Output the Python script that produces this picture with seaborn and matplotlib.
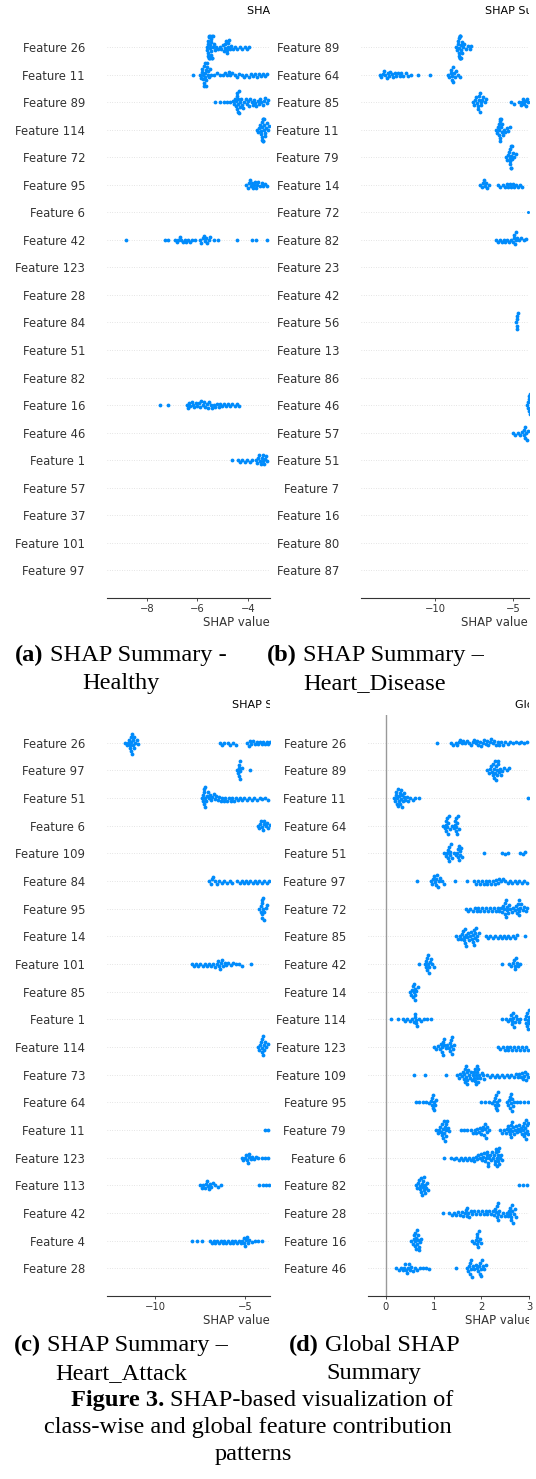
import matplotlib
matplotlib.use("Agg")
import matplotlib.pyplot as plt
import numpy as np
import pandas as pd
import seaborn as sns
from matplotlib.transforms import Bbox, TransformedBbox

# ---------------- data ----------------
a_features = ["Feature 26", "Feature 11", "Feature 89", "Feature 114", "Feature 72", "Feature 95",
              "Feature 6", "Feature 42", "Feature 123", "Feature 28", "Feature 84", "Feature 51",
              "Feature 82", "Feature 16", "Feature 46", "Feature 1", "Feature 57", "Feature 37",
              "Feature 101", "Feature 97"]
a_values = [
    [-5.61, -5.60, -5.59, -5.58, -5.57, -5.56, -5.55, -5.54, -5.53, -5.52, -5.51, -5.50, -5.49, -5.48, -5.47, -5.46, -5.45, -5.44, -5.43, -5.42, -5.41, -5.39, -5.37, -5.34, -5.31, -5.25, -5.18, -5.11, -5.05, -5.00, -4.96, -4.92, -4.89, -4.86, -4.84, -4.82, -4.80, -4.77, -4.74, -4.70, -4.65, -4.58, -4.50, -4.41, -4.31, -4.22, -4.13, -4.04, -3.96],
    [-6.18, -5.90, -5.86, -5.82, -5.80, -5.78, -5.76, -5.74, -5.73, -5.72, -5.70, -5.69, -5.68, -5.66, -5.65, -5.64, -5.63, -5.61, -5.59, -5.56, -5.53, -5.49, -5.44, -5.32, -5.22, -5.10, -4.98, -4.90, -4.82, -4.76, -4.70, -4.62, -4.50, -4.42, -4.35, -4.22, -4.14, -4.06, -3.97, -3.89, -3.80, -3.71, -3.63, -3.55, -3.46, -3.38, -3.30, -3.22],
    [-5.28, -5.10, -4.95, -4.82, -4.70, -4.60, -4.55, -4.51, -4.48, -4.46, -4.44, -4.42, -4.41, -4.40, -4.39, -4.38, -4.36, -4.34, -4.32, -4.29, -4.26, -4.22, -4.18, -4.14, -4.09, -4.04, -3.99, -3.94, -3.90, -3.85, -3.80, -3.76, -3.71, -3.66, -3.61, -3.56, -3.51, -3.46, -3.40, -3.35, -3.30, -3.25, -3.20],
    [-3.64, -3.58, -3.54, -3.50, -3.48, -3.46, -3.45, -3.44, -3.43, -3.42, -3.41, -3.40, -3.39, -3.38, -3.37, -3.36, -3.35, -3.33, -3.31, -3.28, -3.25, -3.21, -3.17],
    [],
    [-4.07, -4.01, -3.96, -3.92, -3.88, -3.84, -3.80, -3.76, -3.72, -3.68, -3.63, -3.58, -3.52, -3.45, -3.38, -3.30, -3.22],
    [],
    [-8.83, -7.29, -7.16, -6.89, -6.82, -6.76, -6.70, -6.63, -6.56, -6.50, -6.43, -6.36, -6.30, -6.23, -6.10, -5.90, -5.84, -5.79, -5.74, -5.70, -5.65, -5.61, -5.55, -5.50, -5.35, -5.18, -4.43, -3.84, -3.68, -3.25],
    [], [], [], [], [],
    [-7.49, -7.17, -6.42, -6.37, -6.33, -6.28, -6.22, -6.17, -6.12, -6.06, -6.00, -5.94, -5.89, -5.84, -5.78, -5.73, -5.68, -5.62, -5.57, -5.52, -5.46, -5.40, -5.34, -5.28, -5.22, -5.16, -5.10, -5.03, -4.96, -4.88, -4.80, -4.71, -4.62, -4.52, -4.43, -4.35],
    [],
    [-4.62, -4.40, -4.30, -4.21, -4.12, -4.02, -3.92, -3.83, -3.68, -3.62, -3.58, -3.54, -3.50, -3.47, -3.44, -3.41, -3.38, -3.35, -3.31, -3.27, -3.23],
    [], [], [], [],
]

b_features = ["Feature 89", "Feature 64", "Feature 85", "Feature 11", "Feature 79", "Feature 14",
              "Feature 72", "Feature 82", "Feature 23", "Feature 42", "Feature 56", "Feature 13",
              "Feature 86", "Feature 46", "Feature 57", "Feature 51", "Feature 7", "Feature 16",
              "Feature 80", "Feature 87"]
b_values = [
    [-8.63, -8.58, -8.54, -8.50, -8.48, -8.46, -8.44, -8.43, -8.42, -8.41, -8.40, -8.39, -8.38, -8.37, -8.36, -8.34, -8.31, -8.28, -8.24, -8.19, -8.12, -8.02, -7.90, -7.78, -7.68],
    [-13.55, -13.45, -13.36, -13.27, -13.18, -13.10, -13.02, -12.93, -12.85, -12.76, -12.67, -12.58, -12.48, -12.38, -12.27, -12.15, -12.02, -11.88, -11.75, -11.52, -11.09, -10.30, -9.17, -9.07, -9.00, -8.96, -8.93, -8.90, -8.87, -8.84, -8.79, -8.72, -8.62, -8.50, -8.42],
    [-7.56, -7.48, -7.40, -7.34, -7.28, -7.25, -7.22, -7.19, -7.16, -7.13, -7.10, -7.06, -7.02, -6.96, -6.89, -6.81, -6.72, -5.12, -4.95, -4.62, -4.50, -4.42, -4.35, -4.28, -4.21, -4.14, -4.08, -4.02],
    [-6.07, -6.01, -5.96, -5.92, -5.89, -5.87, -5.85, -5.83, -5.82, -5.81, -5.79, -5.76, -5.72, -5.68, -5.63, -5.57, -5.49, -5.40, -5.30, -5.21],
    [-5.47, -5.38, -5.31, -5.26, -5.22, -5.20, -5.18, -5.16, -5.15, -5.14, -5.13, -5.11, -5.08, -5.04, -4.98, -4.90, -4.80],
    [-7.10, -7.00, -6.92, -6.85, -6.79, -6.72, -6.64, -6.55, -5.98, -5.82, -5.62, -5.50, -5.40, -5.30, -5.20, -5.10, -5.00, -4.90, -4.78, -4.65, -4.52, -4.42],
    [-4.04],
    [-6.11, -5.98, -5.85, -5.72, -5.60, -5.48, -5.36, -5.24, -5.12, -5.02, -4.95, -4.90, -4.86, -4.82, -4.78, -4.72, -4.62, -4.48, -4.32, -4.15],
    [], [],
    [-4.78, -4.75, -4.73, -4.72, -4.71, -4.69],
    [], [],
    [-4.08, -4.04, -4.01, -3.99, -3.97, -3.95, -3.93, -3.91],
    [-5.00, -4.85, -4.70, -4.55, -4.42, -4.32, -4.27, -4.24, -4.21, -4.17, -4.10, -4.02],
    [], [], [], [], [],
]

c_features = ["Feature 26", "Feature 97", "Feature 51", "Feature 6", "Feature 109", "Feature 84",
              "Feature 95", "Feature 14", "Feature 101", "Feature 85", "Feature 1", "Feature 114",
              "Feature 73", "Feature 64", "Feature 11", "Feature 123", "Feature 113", "Feature 42",
              "Feature 4", "Feature 28"]
c_values = [
    [-11.67, -11.58, -11.50, -11.44, -11.40, -11.37, -11.35, -11.33, -11.31, -11.29, -11.27, -11.25, -11.22, -11.19, -11.15, -11.09, -11.02, -10.93, -6.39, -6.30, -6.17, -5.95, -5.83, -5.65, -5.52, -4.87, -4.80, -4.72, -4.64, -4.54, -4.45, -4.35, -4.26, -4.17, -4.08, -3.98, -3.89, -3.80, -3.70, -3.61],
    [-5.46, -5.40, -5.36, -5.34, -5.32, -5.30, -5.28, -5.25, -5.18, -4.72],
    [-7.41, -7.36, -7.32, -7.30, -7.28, -7.26, -7.24, -7.22, -7.20, -7.17, -7.13, -7.08, -7.02, -6.96, -6.89, -6.82, -6.75, -6.68, -6.60, -6.52, -6.44, -6.36, -6.27, -6.18, -6.09, -6.00, -5.90, -5.80, -5.70, -5.60, -5.49, -5.38, -5.27, -5.15, -5.03, -4.90, -4.77, -4.63, -4.49, -4.34, -4.19, -4.03, -3.87, -3.72],
    [-4.28, -4.20, -4.14, -4.09, -4.05, -4.01, -3.97, -3.92, -3.86, -3.79, -3.71, -3.63],
    [],
    [-6.98, -6.90, -6.83, -6.76, -6.68, -6.58, -6.45, -6.30, -6.15, -6.00, -5.85, -5.70, -5.42, -5.30, -5.18, -5.06, -4.94, -4.82, -4.70, -4.58, -4.46, -4.34, -4.20, -4.06, -3.92, -3.78, -3.64],
    [-4.20, -4.13, -4.09, -4.07, -4.05, -4.04, -4.03, -4.02, -4.00, -3.97, -3.93, -3.86, -3.80],
    [],
    [-7.96, -7.84, -7.72, -7.60, -7.48, -7.36, -7.24, -7.12, -7.00, -6.88, -6.76, -6.66, -6.57, -6.50, -6.44, -6.39, -6.34, -6.28, -6.21, -6.13, -6.03, -5.92, -5.80, -5.66, -5.50, -5.33, -5.19, -4.69],
    [], [],
    [-4.28, -4.20, -4.14, -4.10, -4.07, -4.05, -4.03, -4.01, -4.00, -3.97, -3.93, -3.88, -3.82, -3.74],
    [], [],
    [-3.89, -3.70],
    [-5.19, -5.10, -5.02, -4.95, -4.89, -4.84, -4.80, -4.75, -4.69, -4.62, -4.52, -4.40, -4.25, -4.08, -3.90, -3.72],
    [-7.50, -7.40, -7.31, -7.23, -7.16, -7.10, -7.05, -7.00, -6.94, -6.87, -6.78, -6.66, -6.52, -6.35, -4.20, -4.02, -3.84, -3.66],
    [],
    [-7.96, -7.68, -7.41, -6.94, -6.84, -6.74, -6.64, -6.54, -6.44, -6.34, -6.24, -6.14, -6.04, -5.94, -5.84, -5.74, -5.64, -5.54, -5.44, -5.34, -5.24, -5.15, -5.08, -5.03, -4.99, -4.95, -4.90, -4.84, -4.75, -4.62, -4.46, -4.28, -4.07],
    [],
]

d_features = ["Feature 26", "Feature 89", "Feature 11", "Feature 64", "Feature 51", "Feature 97",
              "Feature 72", "Feature 85", "Feature 42", "Feature 14", "Feature 114", "Feature 123",
              "Feature 109", "Feature 95", "Feature 79", "Feature 6", "Feature 82", "Feature 28",
              "Feature 16", "Feature 46"]
d_values = [
    [1.08, 1.36, 1.41, 1.46, 1.50, 1.53, 1.56, 1.59, 1.62, 1.66, 1.70, 1.75, 1.79, 1.82, 1.85, 1.88, 1.91, 1.94, 1.97, 2.00, 2.03, 2.06, 2.09, 2.12, 2.15, 2.18, 2.21, 2.24, 2.27, 2.30, 2.34, 2.38, 2.42, 2.46, 2.50, 2.55, 2.60, 2.66, 2.72, 2.78, 2.84, 2.90, 2.96],
    [2.13, 2.16, 2.19, 2.21, 2.23, 2.24, 2.25, 2.26, 2.27, 2.28, 2.29, 2.30, 2.31, 2.32, 2.33, 2.34, 2.35, 2.37, 2.39, 2.41, 2.44, 2.48, 2.53, 2.58],
    [0.17, 0.19, 0.21, 0.22, 0.23, 0.24, 0.25, 0.26, 0.27, 0.28, 0.29, 0.30, 0.31, 0.32, 0.33, 0.34, 0.35, 0.37, 0.39, 0.41, 0.44, 0.47, 0.51, 0.56, 0.62, 0.69, 2.97],
    [1.19, 1.23, 1.25, 1.26, 1.27, 1.28, 1.29, 1.30, 1.31, 1.32, 1.34, 1.38, 1.42, 1.44, 1.45, 1.46, 1.47, 1.48, 1.49, 1.50, 1.51, 1.53],
    [1.22, 1.26, 1.29, 1.30, 1.31, 1.32, 1.33, 1.34, 1.35, 1.36, 1.38, 1.42, 1.47, 1.50, 1.51, 1.52, 1.53, 1.54, 1.55, 1.56, 1.58, 1.60, 2.06, 2.44, 2.50, 2.57, 2.81, 2.87, 2.92],
    [0.65, 0.94, 0.97, 0.99, 1.01, 1.03, 1.05, 1.06, 1.07, 1.09, 1.11, 1.14, 1.18, 1.22, 1.44, 1.69, 1.85, 1.89, 1.93, 1.97, 2.01, 2.05, 2.09, 2.13, 2.17, 2.21, 2.25, 2.28, 2.31, 2.34, 2.37, 2.41, 2.45, 2.50, 2.55, 2.60, 2.65, 2.70, 2.75, 2.80, 2.85, 2.90, 2.95],
    [1.67, 1.72, 1.77, 1.82, 1.86, 1.90, 1.94, 1.98, 2.02, 2.06, 2.10, 2.14, 2.18, 2.22, 2.26, 2.30, 2.34, 2.38, 2.41, 2.44, 2.46, 2.48, 2.49, 2.50, 2.51, 2.52, 2.53, 2.54, 2.56, 2.58, 2.61, 2.64, 2.67, 2.70, 2.72, 2.74, 2.76, 2.77, 2.78, 2.79, 2.80, 2.82, 2.84, 2.87, 2.90, 2.93, 2.96],
    [1.47, 1.51, 1.55, 1.58, 1.60, 1.62, 1.63, 1.64, 1.65, 1.66, 1.67, 1.68, 1.70, 1.72, 1.74, 1.76, 1.78, 1.80, 1.82, 1.83, 1.84, 1.85, 1.86, 1.87, 1.88, 1.90, 1.92, 1.95, 2.09, 2.14, 2.19, 2.24, 2.29, 2.34, 2.39, 2.44, 2.48, 2.52, 2.56, 2.61, 2.66, 2.71, 2.75, 2.92],
    [0.70, 0.81, 0.84, 0.85, 0.86, 0.87, 0.88, 0.89, 0.90, 0.91, 0.92, 0.94, 0.97, 1.01, 2.44, 2.58, 2.63, 2.66, 2.68, 2.70, 2.71, 2.72, 2.74, 2.77, 2.82],
    [0.50, 0.53, 0.55, 0.56, 0.57, 0.58, 0.59, 0.60, 0.61, 0.62, 0.64, 0.67],
    [0.11, 0.25, 0.35, 0.40, 0.45, 0.50, 0.55, 0.58, 0.60, 0.62, 0.63, 0.64, 0.66, 0.69, 0.74, 0.80, 0.87, 0.94, 2.44, 2.52, 2.57, 2.60, 2.62, 2.64, 2.65, 2.66, 2.67, 2.68, 2.70, 2.72, 2.75, 2.78, 2.82, 2.92, 2.93, 2.94, 2.95, 2.96, 2.97, 2.98, 2.99, 3.00, 3.01],
    [1.01, 1.06, 1.10, 1.13, 1.15, 1.17, 1.18, 1.19, 1.20, 1.21, 1.22, 1.25, 1.29, 1.32, 1.34, 1.35, 1.36, 1.37, 1.38, 1.39, 1.40, 1.43, 2.35, 2.40, 2.45, 2.49, 2.53, 2.57, 2.61, 2.65, 2.69, 2.73, 2.77, 2.81, 2.85, 2.89, 2.93, 2.97],
    [0.58, 0.82, 1.26, 1.50, 1.53, 1.56, 1.59, 1.61, 1.63, 1.64, 1.65, 1.66, 1.67, 1.68, 1.69, 1.70, 1.71, 1.72, 1.74, 1.76, 1.78, 1.80, 1.82, 1.84, 1.85, 1.86, 1.87, 1.88, 1.89, 1.90, 1.91, 1.92, 1.93, 1.94, 1.96, 1.98, 2.01, 2.04, 2.06, 2.13, 2.18, 2.23, 2.28, 2.33, 2.38, 2.43, 2.48, 2.53, 2.58, 2.63, 2.68, 2.72, 2.76, 2.80, 2.83, 2.86, 2.88, 2.90, 2.92, 2.94, 2.96, 2.98],
    [0.63, 0.70, 0.77, 0.84, 0.90, 0.94, 0.96, 0.97, 0.98, 0.99, 1.00, 1.01, 1.03, 1.05, 1.99, 2.08, 2.16, 2.22, 2.26, 2.28, 2.29, 2.30, 2.31, 2.32, 2.33, 2.34, 2.35, 2.37, 2.54, 2.57, 2.59, 2.60, 2.61, 2.62, 2.63, 2.64, 2.65, 2.66, 2.68, 2.75, 2.82, 2.90, 2.97],
    [1.05, 1.09, 1.12, 1.14, 1.16, 1.17, 1.18, 1.19, 1.20, 1.21, 1.22, 1.23, 1.24, 1.25, 1.26, 1.27, 1.28, 1.30, 1.33, 1.57, 1.64, 1.71, 1.78, 1.82, 1.86, 1.89, 1.92, 1.95, 1.98, 2.00, 2.02, 2.04, 2.06, 2.07, 2.08, 2.09, 2.11, 2.13, 2.16, 2.40, 2.44, 2.48, 2.51, 2.54, 2.56, 2.58, 2.60, 2.61, 2.62, 2.63, 2.64, 2.65, 2.67, 2.69, 2.71, 2.73, 2.75, 2.77, 2.79, 2.81, 2.83, 2.85, 2.87, 2.88, 2.89, 2.90, 2.91, 2.92, 2.93, 2.94, 2.95, 2.96, 2.97, 2.98],
    [1.22, 1.36, 1.42, 1.48, 1.53, 1.58, 1.62, 1.66, 1.70, 1.74, 1.78, 1.82, 1.85, 1.88, 1.91, 1.94, 1.97, 2.00, 2.02, 2.04, 2.06, 2.08, 2.10, 2.12, 2.13, 2.14, 2.15, 2.17, 2.19, 2.21, 2.23, 2.25, 2.27, 2.28, 2.29, 2.30, 2.31, 2.32, 2.33, 2.34, 2.35, 2.36, 2.37, 2.38, 2.40, 2.42, 2.44],
    [0.63, 0.66, 0.68, 0.70, 0.71, 0.72, 0.73, 0.74, 0.75, 0.76, 0.77, 0.78, 0.79, 0.80, 0.81, 0.82, 0.84, 0.86, 0.88, 2.78, 2.87, 2.96],
    [1.20, 1.33, 1.38, 1.43, 1.48, 1.52, 1.56, 1.59, 1.62, 1.65, 1.67, 1.69, 1.71, 1.73, 1.75, 1.78, 1.81, 1.85, 1.89, 1.93, 1.97, 2.01, 2.05, 2.09, 2.13, 2.17, 2.21, 2.24, 2.27, 2.29, 2.31, 2.32, 2.33, 2.34, 2.35, 2.36, 2.38, 2.41, 2.45, 2.49, 2.53, 2.56, 2.58, 2.60, 2.61, 2.62, 2.63, 2.64, 2.65, 2.66, 2.68, 2.70, 2.72],
    [0.53, 0.56, 0.58, 0.59, 0.60, 0.61, 0.62, 0.63, 0.64, 0.65, 0.66, 0.67, 0.68, 0.69, 0.70, 0.72, 0.74, 1.81, 1.85, 1.88, 1.90, 1.91, 1.92, 1.93, 1.94, 1.95, 1.97, 1.99],
    [0.22, 0.27, 0.31, 0.35, 0.38, 0.40, 0.42, 0.44, 0.46, 0.48, 0.50, 0.53, 0.56, 0.60, 0.65, 0.71, 0.78, 0.85, 0.91, 1.48, 1.71, 1.73, 1.75, 1.76, 1.77, 1.78, 1.79, 1.80, 1.82, 1.85, 1.88, 1.91, 1.94, 1.96, 1.97, 1.98, 1.99, 2.00, 2.01, 2.03, 2.06, 2.09],
]

titles = ["SHAP Summary - Healthy", "SHAP Summary - Heart_Disease",
          "SHAP Summary - Heart_Attack", "Global SHAP Summary"]
x_ticks = [[-8, -6, -4], [-10, -5], [-10, -5], [0, 1, 2, 3]]
x_limits = [(-9.58, -3.12), (-14.74, -3.97), (-12.67, -3.61), (-0.375, 2.98)]
caption_bold = ["(a)", "(b)", "(c)", "(d)"]
caption_line1 = ["SHAP Summary -", "SHAP Summary \u2013", "SHAP Summary \u2013", "Global SHAP"]
caption_line2 = ["Healthy", "Heart_Disease", "Heart_Attack", "Summary"]
figure_bold = "Figure 3."
figure_lines = ["SHAP-based visualization of",
                "class-wise and global feature contribution",
                "patterns"]

# ---------------- layout ----------------
W, H = 536, 1479
fig = plt.figure(figsize=(W / 100, H / 100), dpi=100)
fig.patch.set_facecolor("white")

BLUE = "#008bfb"
AXC = "#333333"
SWARM_SIZE = 2.2   # spacing used by the beeswarm layout
DOT_SIZE = 2.75    # drawn marker diameter (pt): slight overlap like SHAP's plot


def clip_text(t, x0, x1):
    t.set_clip_box(TransformedBbox(Bbox.from_extents(x0 / W, 0, x1 / W, 1), fig.transFigure))
    t.set_clip_on(True)


axes = []


def panel(i, feats, vals, rect, title_xy, xlabel_xy, zero_line=False):
    l, t, r, b = rect
    ax = fig.add_axes([l / W, 1 - b / H, (r - l) / W, (b - t) / H])
    rows = [(f, v) for f, vs in zip(feats, vals) for v in vs]
    df = pd.DataFrame(rows, columns=["feature", "shap"])
    sns.swarmplot(data=df, x="shap", y="feature", order=feats, orient="h",
                  size=SWARM_SIZE, color=BLUE, linewidth=0, ax=ax, warn_thresh=1.0, zorder=3)
    for k in range(len(feats)):
        ax.axhline(k, color="#cccccc", lw=0.5, dashes=(1, 2.5), zorder=-1)
    if zero_line:
        ax.axvline(0, color="#999999", lw=1.0, zorder=-1)
    ax.set_xlim(*x_limits[i])
    ax.set_ylim(len(feats), -1)
    ax.set_xticks(x_ticks[i])
    ax.set_xticklabels([str(v).replace("-", "\u2212") for v in x_ticks[i]])
    ax.set_xlabel("")
    ax.set_ylabel("")
    for s in ["top", "right", "left"]:
        ax.spines[s].set_visible(False)
    ax.spines["bottom"].set_color(AXC)
    ax.spines["bottom"].set_linewidth(0.8)
    ax.tick_params(axis="y", length=0, pad=15.8, labelsize=8.4, labelcolor=AXC)
    ax.tick_params(axis="x", length=2.5, width=0.6, pad=1.5, labelsize=7.2,
                   color=AXC, labelcolor=AXC)
    ax.set_facecolor("white")
    tt = fig.text(title_xy[0] / W, 1 - title_xy[1] / H, titles[i], ha="left", va="center",
                  fontsize=8.0, color="black")
    clip_text(tt, l - 100, r)
    xl = fig.text(xlabel_xy[0] / W, 1 - xlabel_xy[1] / H, "SHAP value", ha="left",
                  va="center", fontsize=8.4, color=AXC)
    clip_text(xl, l - 100, r)
    axes.append(ax)
    return ax


panel(0, a_features, a_values, (107, 19.4, 270, 598), (247, 11), (203, 623))
panel(1, b_features, b_values, (361, 19.4, 529, 598), (485, 11), (461, 623))
panel(2, c_features, c_values, (107, 715, 270, 1296), (232, 705), (203, 1321))
panel(3, d_features, d_values, (368, 715, 529, 1296), (515, 705), (465, 1321), zero_line=True)

# ---------------- captions ----------------
SERIF = "Liberation Serif"
CAP = 17.6
renderer = fig.canvas.get_renderer()
space_px = 0.25 * CAP * 100 / 72


def mixed_line(cx, y, bold, regular):
    tb = fig.text(0, 1 - y / H, bold, fontweight="bold", family=SERIF, fontsize=CAP,
                  ha="left", va="baseline", color="black")
    tr = fig.text(0, 1 - y / H, regular, family=SERIF, fontsize=CAP,
                  ha="left", va="baseline", color="black")
    wb = tb.get_window_extent(renderer).width
    wr = tr.get_window_extent(renderer).width
    total = wb + space_px + wr
    x0 = cx - total / 2
    tb.set_x(x0 / W)
    tr.set_x((x0 + wb + space_px) / W)


def plain_line(cx, y, text):
    fig.text(cx / W, 1 - y / H, text, family=SERIF, fontsize=CAP, ha="center",
             va="baseline", color="black")


centers = [121, 375, 121, 374]
line_y = [(661, 689), (661, 689), (1351, 1379), (1351, 1379)]
for k in range(4):
    mixed_line(centers[k], line_y[k][0], caption_bold[k], caption_line1[k])
    plain_line(centers[k], line_y[k][1], caption_line2[k])

mixed_line(262, 1406, figure_bold, figure_lines[0])
plain_line(248, 1433, figure_lines[1])
plain_line(253, 1460, figure_lines[2])

# Lay out the beeswarms once, then freeze the positions and draw the dots a
# little larger so dense clusters read as solid blobs (as in SHAP's output).
fig.canvas.draw()
for ax in axes:
    for coll in ax.collections:
        if "draw" in coll.__dict__:
            del coll.draw
            coll.set_sizes([DOT_SIZE ** 2])

fig.savefig("out.png", dpi=100, facecolor="white")
